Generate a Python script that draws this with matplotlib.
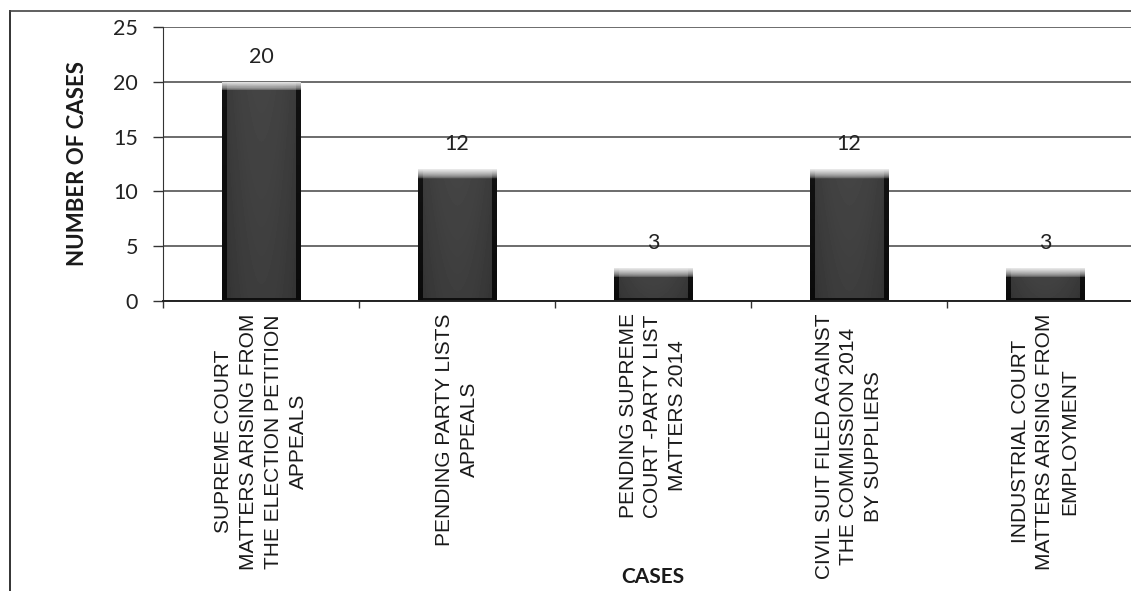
import numpy as np
import matplotlib
matplotlib.use("Agg")
import matplotlib.pyplot as plt
from matplotlib.lines import Line2D

categories = [
    "SUPREME COURT\nMATTERS ARISING FROM\nTHE ELECTION PETITION\nAPPEALS",
    "PENDING PARTY LISTS\nAPPEALS",
    "PENDING SUPREME\nCOURT -PARTY LIST\nMATTERS 2014",
    "CIVIL SUIT FILED AGAINST\nTHE COMMISSION 2014\nBY SUPPLIERS",
    "INDUSTRIAL COURT\nMATTERS ARISING FROM\nEMPLOYMENT",
]
values = [20, 12, 3, 12, 3]
yticks = [0, 5, 10, 15, 20, 25]

W, H = 1131, 591
fig = plt.figure(figsize=(W / 100, H / 100), dpi=100)
fig.patch.set_facecolor("white")

ax_left, ax_right = 163 / W, 1143 / W
ax_bottom, ax_top = (H - 301) / H, (H - 27) / H
ax = fig.add_axes([ax_left, ax_bottom, ax_right - ax_left, ax_top - ax_bottom])

x = np.arange(len(values))
bars = ax.bar(x, values, width=0.4, color="#262626", linewidth=0, zorder=3)

# gradient shading inside each bar (light top rim, dark sides)
for b, v in zip(bars, values):
    x0, w = b.get_x(), b.get_width()
    h = b.get_height()
    n = 400
    t = np.linspace(0, 1, n)[:, None]  # 0 = top
    fade = 0.85 / h
    vert = np.clip(1 - t / fade, 0, 1) ** 0.6
    xs = np.linspace(-1, 1, 160)[None, :]
    horiz = np.where(np.abs(xs) > 0.88, 0.04, 0.19 + 0.05 * (1 - xs ** 2))
    bottom = np.where(t > 1 - 0.012 * 20 / h, 0.06, 1.0)
    img = np.minimum(horiz + 0.03 * (1 - t), bottom) * (1 - vert) + 0.92 * vert
    im = ax.imshow(img, cmap="gray", vmin=0, vmax=1, aspect="auto",
                   extent=(x0, x0 + w, 0, h), zorder=3.5, interpolation="nearest")
    im.set_clip_path(b)

for xi, v in zip(x, values):
    ax.annotate(str(v), (xi, v), xytext=(0, 25), textcoords="offset pixels",
                ha="center", va="center", fontsize=15.5, family="Lato",
                color="#222222", zorder=5)

ax.set_xlim(-0.5, len(values) - 0.5)
ax.set_ylim(0, 25)
ax.set_yticks(yticks)
ax.set_yticklabels([str(t) for t in yticks], family="Lato", fontsize=15.5,
                   color="#222222")
ax.tick_params(axis="y", length=7, width=1, color="#333333", pad=11)

ax.set_xticks(x)
ax.set_xticklabels(categories, rotation=90, fontfamily="Liberation Sans",
                   fontsize=15, ha="center", va="top", multialignment="center",
                   linespacing=1.38, color="#1a1a1a")
ax.tick_params(axis="x", which="major", length=0, pad=9)
ax.set_xticks(np.arange(len(values) + 1) - 0.5, minor=True)
ax.tick_params(axis="x", which="minor", length=5, width=1, color="#333333")

ax.grid(axis="y", color="#444444", linewidth=1.1, zorder=0)
ax.set_axisbelow(True)
for s in ["top", "right"]:
    ax.spines[s].set_visible(False)
ax.spines["left"].set_color("#333333")
ax.spines["bottom"].set_color("#222222")
ax.spines["bottom"].set_linewidth(1.4)
ax.spines["bottom"].set_zorder(5)

ax.set_ylabel("NUMBER OF CASES", family="Lato", fontweight="bold",
              fontsize=16, color="#1a1a1a")
ax.yaxis.set_label_coords((88 - 163) / (1143 - 163), 0.5)
ax.set_xlabel("CASES", family="Lato", fontweight="bold", fontsize=15,
              color="#1a1a1a", va="center")
ax.xaxis.set_label_coords(0.5, ((H - 577) / H - ax_bottom) / (ax_top - ax_bottom))

# scanned frame
fig.add_artist(Line2D([10 / W, 10 / W], [0, (H - 11) / H], transform=fig.transFigure,
                      color="#333333", linewidth=1.4))
fig.add_artist(Line2D([10 / W, 1], [(H - 11) / H, (H - 11) / H],
                      transform=fig.transFigure, color="#444444", linewidth=1.2))

fig.savefig("out.png", dpi=100)
